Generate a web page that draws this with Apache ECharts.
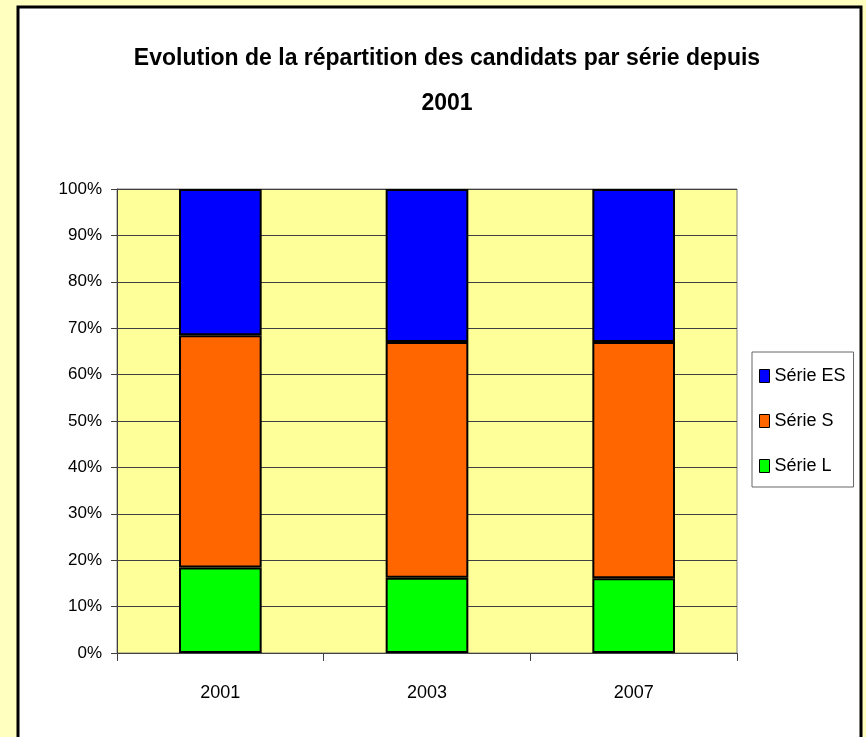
<!DOCTYPE html>
<html>
<head>
<meta charset="utf-8">
<script src="https://cdn.jsdelivr.net/npm/echarts@6/dist/echarts.min.js"></script>
<style>
  html, body { margin: 0; padding: 0; background: #FFFFC0; }
  #chart { width: 866px; height: 737px; }
</style>
</head>
<body>
<div id="chart"></div>
<script>
// annees et parts (en %)
const annees = ['2001', '2003', '2007'];
const serieL = [18.4, 16.2, 16.1];
const serieS = [50.1, 50.8, 50.9];
const serieES = [31.5, 33.0, 33.0];

const FONT = '"Liberation Sans", Arial, sans-serif';

const chart = echarts.init(document.getElementById('chart'));

function barre(nom, data, couleur) {
    return {
        name: nom,
        type: 'bar',
        stack: 'total',
        barWidth: '40%',
        data: data,
        itemStyle: { color: couleur, borderColor: '#000', borderWidth: 2 }
    };
}

chart.setOption({
    backgroundColor: '#FFFFC0',
    graphic: [{
        type: 'rect',
        z: -10,
        shape: { x: 18, y: 7, width: 843, height: 740 },
        style: { fill: '#fff', stroke: '#000', lineWidth: 3 }
    }],
    title: {
        text: 'Evolution de la répartition des candidats par série depuis\n2001',
        left: 442,
        top: 31,
        textAlign: 'center',
        textStyle: {
            fontFamily: FONT,
            fontWeight: 'bold',
            fontSize: 23,
            lineHeight: 45,
            color: '#000'
        }
    },
    legend: {
        orient: 'vertical',
        left: 752,
        top: 352,
        data: ['Série ES', 'Série S', 'Série L'],
        icon: 'rect',
        itemWidth: 10,
        itemHeight: 13,
        itemGap: 23,
        padding: [13, 8, 10, 7],
        backgroundColor: '#fff',
        borderColor: '#666',
        borderWidth: 1,
        itemStyle: { borderColor: '#000', borderWidth: 1 },
        textStyle: { fontFamily: FONT, fontSize: 18, lineHeight: 22, color: '#000' }
    },
    grid: {
        left: 117,
        top: 189,
        width: 620,
        height: 464,
        show: true,
        backgroundColor: '#FFFF99',
        borderColor: '#808080',
        borderWidth: 1
    },
    xAxis: {
        type: 'category',
        data: annees,
        axisLine: { lineStyle: { color: '#404040', width: 1 } },
        axisTick: { show: true, length: 8, lineStyle: { color: '#404040' } },
        axisLabel: { margin: 31, fontFamily: FONT, fontSize: 18, color: '#000' }
    },
    yAxis: {
        type: 'value',
        min: 0,
        max: 100,
        interval: 10,
        axisLine: { show: true, lineStyle: { color: '#404040', width: 1 } },
        axisTick: { show: true, length: 6, lineStyle: { color: '#404040' } },
        axisLabel: { formatter: '{value}%', margin: 15, fontFamily: FONT, fontSize: 17, color: '#000' },
        splitLine: { lineStyle: { color: '#404040', width: 1 } }
    },
    series: [
        barre('Série L', serieL, '#00FF00'),
        barre('Série S', serieS, '#FF6600'),
        barre('Série ES', serieES, '#0000FF')
    ]
});
</script>
</body>
</html>
